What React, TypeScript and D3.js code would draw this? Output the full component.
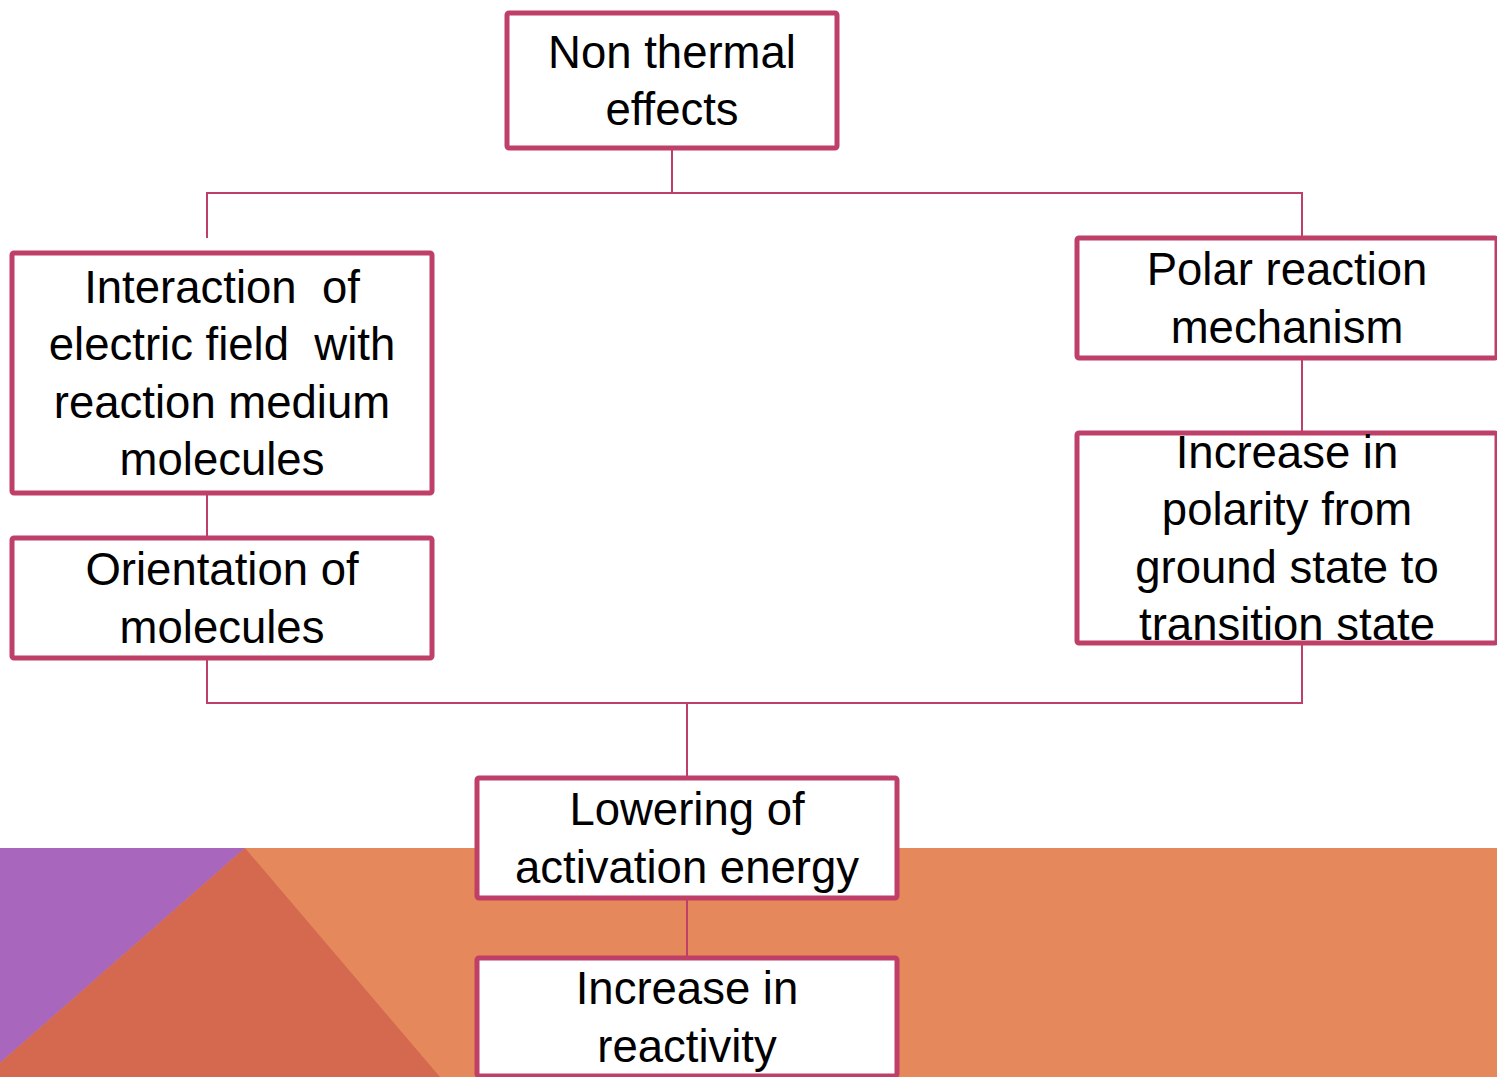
import React, { useEffect, useRef } from 'react';
import * as d3 from 'd3';

// node labels (one entry per line)
const nodeIds = ['root', 'field', 'orient', 'polar', 'polarity', 'lowering', 'reactivity'];
const nodeLines: string[][] = [
  ['Non thermal', 'effects'],
  ['Interaction  of', 'electric field  with', 'reaction medium', 'molecules'],
  ['Orientation of', 'molecules'],
  ['Polar reaction', 'mechanism'],
  ['Increase in', 'polarity from', 'ground state to', 'transition state'],
  ['Lowering of', 'activation energy'],
  ['Increase in', 'reactivity'],
];
// column / row slot of each node in the layout grid
const nodeCol = ['mid', 'left', 'left', 'right', 'right', 'mid2', 'mid2'];
const nodeTop = [13, 253, 538, 238, 433, 778, 958];
const nodeHeight = [135, 240, 120, 120, 210, 120, 118];

// simple parent -> child links
const links: [string, string][] = [
  ['field', 'orient'],
  ['polar', 'polarity'],
  ['lowering', 'reactivity'],
];

const W = 1497;
const H = 1077;

const App = () => {
  const ref = useRef<SVGSVGElement | null>(null);

  useEffect(() => {
    if (!ref.current) return;
    const svg = d3.select(ref.current);
    svg.selectAll('*').remove();

    const pink = '#BE4069';
    const colX = d3.scaleOrdinal<string, number>()
      .domain(['left', 'mid', 'mid2', 'right'])
      .range([12, 507, 477, 1077]);
    const colW = d3.scaleOrdinal<string, number>()
      .domain(['left', 'mid', 'mid2', 'right'])
      .range([420, 330, 420, 420]);
    // connector x of each column (branch lines are a bit off the box centres)
    const colLine = d3.scaleOrdinal<string, number>()
      .domain(['left', 'mid', 'mid2', 'right'])
      .range([207, 672, 687, 1302]);

    const nodes = nodeIds.map((id, i) => ({
      id,
      col: nodeCol[i],
      lines: nodeLines[i],
      x: colX(nodeCol[i]),
      y: nodeTop[i],
      w: colW(nodeCol[i]),
      h: nodeHeight[i],
    }));
    const byId = new Map(nodes.map((n) => [n.id, n]));
    const cx = (id: string) => colLine(byId.get(id)!.col);
    const top = (id: string) => byId.get(id)!.y;
    const bottom = (id: string) => { const n = byId.get(id)!; return n.y + n.h; };

    // background band
    const bandY = 848;
    svg.append('rect').attr('x', 0).attr('y', bandY).attr('width', W).attr('height', H - bandY).attr('fill', '#E5895D');
    svg.append('polygon').attr('points', `0,${bandY} 245,${bandY} 0,1063`).attr('fill', '#A966BD');
    svg.append('polygon').attr('points', `245,${bandY} 440,${H} 0,${H} 0,1063`).attr('fill', '#D4694F');

    const g = svg.append('g').attr('stroke', pink).attr('stroke-width', 2).attr('fill', 'none');
    const line = d3.line();

    // split from root
    const splitY = 193;
    g.append('path').attr('d', line([[cx('root'), bottom('root')], [cx('root'), splitY]]));
    g.append('path').attr('d', line([[cx('field'), 238], [cx('field'), splitY], [cx('polar'), splitY], [cx('polar'), top('polar')]]));

    // merge into lowering
    const mergeY = 703;
    g.append('path').attr('d', line([[cx('orient'), bottom('orient')], [cx('orient'), mergeY], [cx('polarity'), mergeY], [cx('polarity'), bottom('polarity')]]));
    g.append('path').attr('d', line([[cx('lowering'), mergeY], [cx('lowering'), top('lowering')]]));

    links.forEach(([a, b]) => {
      g.append('path').attr('d', line([[cx(a), bottom(a)], [cx(a), top(b)]]));
    });

    // boxes
    const box = svg.selectAll('g.node').data(nodes).join('g').attr('class', 'node');
    box.append('rect')
      .attr('x', (d) => d.x).attr('y', (d) => d.y)
      .attr('width', (d) => d.w).attr('height', (d) => d.h)
      .attr('rx', 2)
      .attr('fill', '#fff').attr('stroke', pink).attr('stroke-width', 5);

    const lh = 57.5;
    box.each(function (d) {
      const c = d.y + d.h / 2;
      const n = d.lines.length;
      d3.select(this).selectAll('text').data(d.lines).join('text')
        .attr('x', d.x + d.w / 2)
        .attr('y', (_, i) => c + (i - (n - 1) / 2) * lh + 16)
        .attr('text-anchor', 'middle')
        .attr('font-family', '"Liberation Sans", Arial, sans-serif')
        .attr('font-size', 45.5)
        .attr('fill', '#000')
        .style('white-space', 'pre')
        .text((t) => t);
    });
  }, []);

  return (
    <div style={{ position: 'absolute', left: 0, top: 0 }}>
      <svg ref={ref} width={W} height={H} style={{ display: 'block', background: '#fff' }} />
    </div>
  );
};

export default App;
